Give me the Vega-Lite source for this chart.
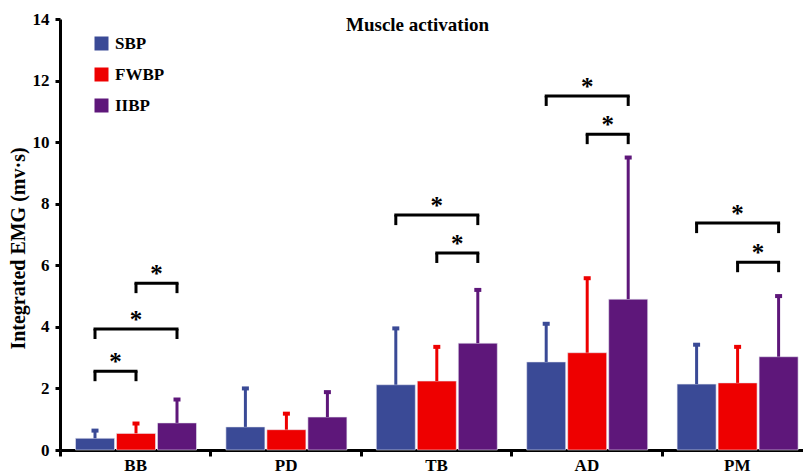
{
  "$schema": "https://vega.github.io/schema/vega-lite/v6.json",
  "width": 743,
  "height": 431,
  "autosize": {"type": "none"},
  "padding": {"left": 60, "top": 19, "right": 0, "bottom": 23},
  "background": "white",
  "title": {
    "text": "Muscle activation",
    "font": "Liberation Serif",
    "fontSize": 19,
    "fontWeight": "bold",
    "color": "black",
    "anchor": "middle",
    "dx": -14,
    "offset": -40,
    "baseline": "alphabetic"
  },
  "datasets": {
    "bars": [
      {"muscle": "BB", "group": "SBP", "mean": 0.38, "upper": 0.63},
      {"muscle": "BB", "group": "FWBP", "mean": 0.54, "upper": 0.86},
      {"muscle": "BB", "group": "IIBP", "mean": 0.88, "upper": 1.64},
      {"muscle": "PD", "group": "SBP", "mean": 0.75, "upper": 2.0},
      {"muscle": "PD", "group": "FWBP", "mean": 0.66, "upper": 1.18},
      {"muscle": "PD", "group": "IIBP", "mean": 1.07, "upper": 1.88},
      {"muscle": "TB", "group": "SBP", "mean": 2.12, "upper": 3.95},
      {"muscle": "TB", "group": "FWBP", "mean": 2.24, "upper": 3.35},
      {"muscle": "TB", "group": "IIBP", "mean": 3.47, "upper": 5.2},
      {"muscle": "AD", "group": "SBP", "mean": 2.86, "upper": 4.1},
      {"muscle": "AD", "group": "FWBP", "mean": 3.16, "upper": 5.58},
      {"muscle": "AD", "group": "IIBP", "mean": 4.9, "upper": 9.5},
      {"muscle": "PM", "group": "SBP", "mean": 2.14, "upper": 3.42},
      {"muscle": "PM", "group": "FWBP", "mean": 2.18, "upper": 3.35},
      {"muscle": "PM", "group": "IIBP", "mean": 3.03, "upper": 5.0}
    ],
    "brackets": [
      {"muscle": "BB", "id": "BB1", "group": "SBP", "level": 2.56},
      {"muscle": "BB", "id": "BB1", "group": "FWBP", "level": 2.56},
      {"muscle": "BB", "id": "BB2", "group": "SBP", "level": 3.93},
      {"muscle": "BB", "id": "BB2", "group": "IIBP", "level": 3.93},
      {"muscle": "BB", "id": "BB3", "group": "FWBP", "level": 5.42},
      {"muscle": "BB", "id": "BB3", "group": "IIBP", "level": 5.42},
      {"muscle": "TB", "id": "TB1", "group": "SBP", "level": 7.63},
      {"muscle": "TB", "id": "TB1", "group": "IIBP", "level": 7.63},
      {"muscle": "TB", "id": "TB2", "group": "FWBP", "level": 6.4},
      {"muscle": "TB", "id": "TB2", "group": "IIBP", "level": 6.4},
      {"muscle": "AD", "id": "AD1", "group": "SBP", "level": 11.5},
      {"muscle": "AD", "id": "AD1", "group": "IIBP", "level": 11.5},
      {"muscle": "AD", "id": "AD2", "group": "FWBP", "level": 10.26},
      {"muscle": "AD", "id": "AD2", "group": "IIBP", "level": 10.26},
      {"muscle": "PM", "id": "PM1", "group": "SBP", "level": 7.37},
      {"muscle": "PM", "id": "PM1", "group": "IIBP", "level": 7.37},
      {"muscle": "PM", "id": "PM2", "group": "FWBP", "level": 6.1},
      {"muscle": "PM", "id": "PM2", "group": "IIBP", "level": 6.1}
    ],
    "stars": [
      {"muscle": "BB", "group": "SBP-FWBP", "level": 2.56},
      {"muscle": "BB", "group": "FWBP", "level": 3.93},
      {"muscle": "BB", "group": "FWBP-IIBP", "level": 5.42},
      {"muscle": "TB", "group": "FWBP", "level": 7.63},
      {"muscle": "TB", "group": "FWBP-IIBP", "level": 6.4},
      {"muscle": "AD", "group": "FWBP", "level": 11.5},
      {"muscle": "AD", "group": "FWBP-IIBP", "level": 10.26},
      {"muscle": "PM", "group": "FWBP", "level": 7.37},
      {"muscle": "PM", "group": "FWBP-IIBP", "level": 6.1}
    ]
  },
  "encoding": {
    "x": {
      "field": "muscle",
      "type": "nominal",
      "sort": ["BB", "PD", "TB", "AD", "PM"],
      "scale": {"domain": ["BB", "PD", "TB", "AD", "PM"], "range": [0, 752], "paddingInner": 0, "paddingOuter": 0},
      "axis": {
        "title": null,
        "labelAngle": 0,
        "tickBand": "extent",
        "tickSize": 6,
        "tickWidth": 3,
        "tickColor": "black",
        "domainColor": "black",
        "domainWidth": 3,
        "labelFont": "Liberation Serif",
        "labelFontSize": 17,
        "labelFontWeight": "bold",
        "labelColor": "black",
        "labelPadding": 1
      }
    },
    "xOffset": {
      "field": "group",
      "type": "nominal",
      "scale": {"domain": ["SBP", "SBP-FWBP", "FWBP", "FWBP-IIBP", "IIBP"], "range": [24.75, 127.25], "paddingInner": 0, "paddingOuter": 0}
    }
  },
  "layer": [
    {
      "data": {"name": "bars"},
      "mark": {"type": "bar", "width": 39, "stroke": "#e6e6f0", "strokeWidth": 0.6},
      "encoding": {
        "y": {
          "field": "mean",
          "type": "quantitative",
          "scale": {"domain": [0, 14], "nice": false, "zero": true},
          "axis": {
            "values": [0, 2, 4, 6, 8, 10, 12, 14],
            "grid": false,
            "title": "Integrated EMG (mv·s)",
            "titleFont": "Liberation Serif",
            "titleFontSize": 20,
            "titleFontWeight": "bold",
            "titleColor": "black",
            "titleX": -42,
            "titleY": 229,
            "titleAngle": -90,
            "titleAlign": "center",
            "titleBaseline": "middle",
            "domainColor": "black",
            "domainWidth": 3,
            "tickColor": "black",
            "tickWidth": 3,
            "tickSize": 5,
            "labelFont": "Liberation Serif",
            "labelFontSize": 17,
            "labelFontWeight": "bold",
            "labelColor": "black",
            "labelPadding": 6
          }
        },
        "color": {
          "field": "group",
          "type": "nominal",
          "scale": {"domain": ["SBP", "FWBP", "IIBP"], "range": ["#3A4A96", "#EE0000", "#5E177A"]},
          "legend": {
            "title": null,
            "orient": "none",
            "legendX": 33,
            "legendY": 16,
            "symbolType": "square",
            "symbolSize": 196,
            "symbolStrokeWidth": 0,
            "symbolOpacity": 1,
            "labelFont": "Liberation Serif",
            "labelFontSize": 17,
            "labelFontWeight": "bold",
            "labelColor": "black",
            "labelOffset": 5,
            "rowPadding": 13
          }
        }
      }
    },
    {
      "data": {"name": "bars"},
      "mark": {"type": "rule", "strokeWidth": 3},
      "encoding": {
        "y": {"field": "mean", "type": "quantitative"},
        "y2": {"field": "upper"},
        "color": {"field": "group", "type": "nominal", "legend": null}
      }
    },
    {
      "data": {"name": "bars"},
      "mark": {"type": "tick", "size": 7, "thickness": 4, "opacity": 1},
      "encoding": {
        "y": {"field": "upper", "type": "quantitative"},
        "color": {"field": "group", "type": "nominal", "legend": null}
      }
    },
    {
      "data": {"name": "brackets"},
      "mark": {"type": "line", "color": "black", "strokeWidth": 3, "strokeCap": "square"},
      "encoding": {
        "y": {"field": "level", "type": "quantitative"},
        "detail": {"field": "id"}
      }
    },
    {
      "data": {"name": "brackets"},
      "mark": {"type": "tick", "orient": "vertical", "size": 10, "thickness": 3, "color": "black", "opacity": 1, "yOffset": 5},
      "encoding": {
        "y": {"field": "level", "type": "quantitative"}
      }
    },
    {
      "data": {"name": "stars"},
      "mark": {"type": "text", "text": "*", "font": "Liberation Serif", "fontSize": 25, "fontWeight": "bold", "color": "black", "baseline": "alphabetic", "align": "center", "dy": -1},
      "encoding": {
        "y": {"field": "level", "type": "quantitative"}
      }
    }
  ],
  "config": {
    "view": {"stroke": null}
  }
}
